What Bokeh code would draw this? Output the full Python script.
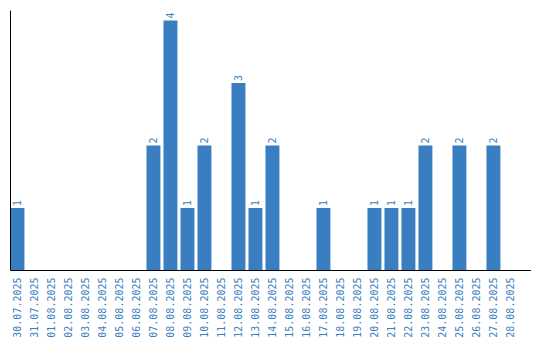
import math
from bokeh.plotting import figure
from bokeh.models import ColumnDataSource, Range1d, FixedTicker
from bokeh.core.properties import value
from bokeh.embed import file_html
from bokeh.resources import INLINE

dates = ["30.07.2025", "31.07.2025", "01.08.2025", "02.08.2025", "03.08.2025",
         "04.08.2025", "05.08.2025", "06.08.2025", "07.08.2025", "08.08.2025",
         "09.08.2025", "10.08.2025", "11.08.2025", "12.08.2025", "13.08.2025",
         "14.08.2025", "15.08.2025", "16.08.2025", "17.08.2025", "18.08.2025",
         "19.08.2025", "20.08.2025", "21.08.2025", "22.08.2025", "23.08.2025",
         "24.08.2025", "25.08.2025", "26.08.2025", "27.08.2025", "28.08.2025"]
counts = [1, 0, 0, 0, 0, 0, 0, 0, 2, 4, 1, 2, 0, 3, 1, 2, 0, 0, 1, 0,
          0, 1, 1, 1, 2, 0, 2, 0, 2, 0]

BLUE = "#3a7ec2"
FONT = "DejaVu Sans Mono"

xs = list(range(len(dates)))
src = ColumnDataSource(dict(x=xs, top=counts))
lab = ColumnDataSource(dict(x=[x for x, c in zip(xs, counts) if c > 0],
                            y=[c for c in counts if c > 0],
                            t=[str(c) for c in counts if c > 0]))

p = figure(frame_width=521, frame_height=260, output_backend="svg",
           toolbar_location=None,
           x_range=Range1d(-0.41, 30.24), y_range=Range1d(0, 4.16),
           min_border_left=10, min_border_top=10, min_border_right=0,
           min_border_bottom=0)
p.outline_line_color = None
p.xgrid.visible = False
p.ygrid.visible = False

p.vbar(x="x", top="top", width=0.82, bottom=0, source=src,
       fill_color=BLUE, line_color=None)
p.text(x="x", y="y", text="t", source=lab, angle=math.pi / 2,
       text_align="left", text_baseline="middle", y_offset=-2,
       text_font=value(FONT), text_font_size="10px", text_color=BLUE)

xa = p.xaxis[0]
xa.ticker = FixedTicker(ticks=xs)
xa.major_label_overrides = {i: d for i, d in enumerate(dates)}
xa.major_label_orientation = math.pi / 2
xa.major_tick_line_color = None
xa.minor_tick_line_color = None
xa.major_tick_out = 0
xa.major_label_standoff = 7
xa.major_label_text_font = FONT
xa.major_label_text_font_size = "10px"
xa.major_label_text_color = BLUE
xa.axis_line_color = "black"
xa.axis_line_width = 1

ya = p.yaxis[0]
ya.ticker = FixedTicker(ticks=[])
ya.major_tick_line_color = None
ya.minor_tick_line_color = None
ya.major_tick_out = 0
ya.major_label_standoff = 0
ya.axis_line_color = "black"

open("out.html", "w").write(file_html(p, INLINE))
